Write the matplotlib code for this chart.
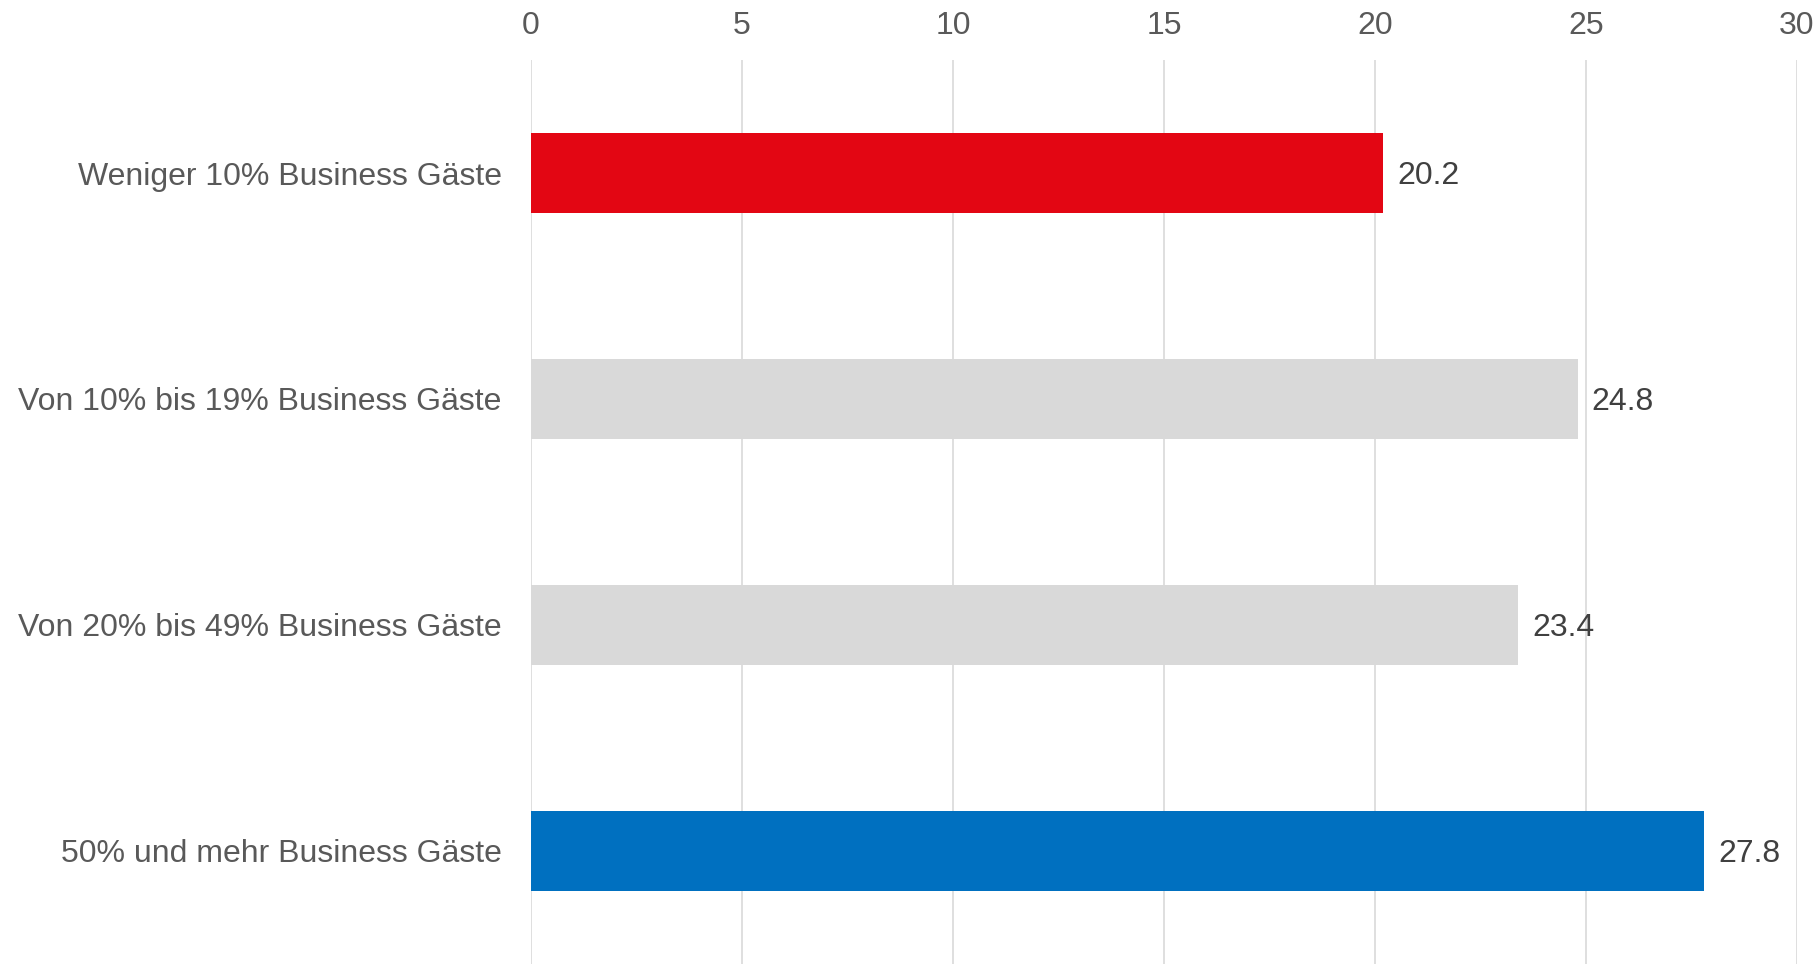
import matplotlib
matplotlib.use("Agg")
import matplotlib.pyplot as plt

categories = ["Weniger 10% Business Gäste", "Von 10% bis 19% Business Gäste",
              "Von 20% bis 49% Business Gäste", "50% und mehr Business Gäste"]
values = [20.2, 24.8, 23.4, 27.8]
colors = ["#E30613", "#D9D9D9", "#D9D9D9", "#0070C0"]
xticks = [0, 5, 10, 15, 20, 25, 30]

plt.rcParams['font.family'] = ['Liberation Sans', 'DejaVu Sans']

fig = plt.figure(figsize=(18.19, 9.64), dpi=100)
ax = fig.add_axes([531/1819, 0.0, (1797-531)/1819, 1 - 60/964])

y = list(range(len(categories)))
ax.barh(y, values, height=0.355, color=colors, zorder=3)
ax.set_ylim(3.5, -0.5)
ax.set_xlim(0, 30)
ax.set_xticks(xticks)
ax.set_xticklabels([str(t) for t in xticks])
ax.xaxis.tick_top()
ax.tick_params(axis='x', length=0, pad=14, labelsize=23, labelcolor="#595959")
ax.set_yticks(y)
ax.set_yticklabels(categories)
ax.tick_params(axis='y', length=0, pad=21, labelsize=23, labelcolor="#595959")
for lbl in ax.get_yticklabels():
    lbl.set_verticalalignment("center_baseline")
ax.grid(axis='x', color="#D9D9D9", linewidth=1.2, zorder=0)
for s in ax.spines.values():
    s.set_visible(False)

for yi, v in zip(y, values):
    ax.annotate(f"{v:.1f}", xy=(v, yi), xytext=(10, 0), textcoords="offset points",
                va="center_baseline", ha="left", fontsize=23, color="#404040")

fig.savefig("out.png", dpi=100)
